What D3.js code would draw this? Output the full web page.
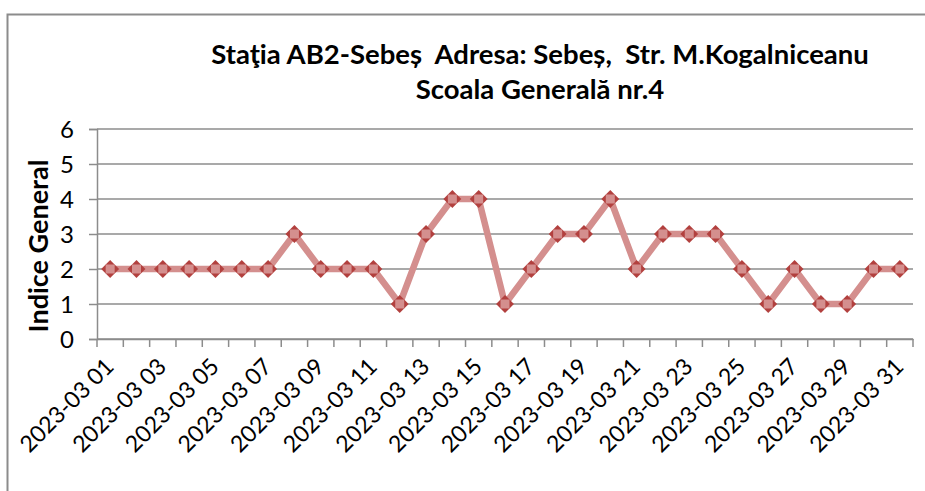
<!DOCTYPE html>
<html>
<head>
<meta charset="utf-8">
<script src="https://cdn.jsdelivr.net/npm/d3@7"></script>
<style>
  body { margin: 0; background: #fff; }
  svg { font-family: Lato, "Noto Sans", sans-serif; }
</style>
</head>
<body>
<div id="chart"></div>
<script>
// chart data
var days = ["2023-03 01", "2023-03 02", "2023-03 03", "2023-03 04", "2023-03 05", "2023-03 06",
  "2023-03 07", "2023-03 08", "2023-03 09", "2023-03 10", "2023-03 11", "2023-03 12",
  "2023-03 13", "2023-03 14", "2023-03 15", "2023-03 16", "2023-03 17", "2023-03 18",
  "2023-03 19", "2023-03 20", "2023-03 21", "2023-03 22", "2023-03 23", "2023-03 24",
  "2023-03 25", "2023-03 26", "2023-03 27", "2023-03 28", "2023-03 29", "2023-03 30",
  "2023-03 31"];
var indice = [2, 2, 2, 2, 2, 2, 2, 3, 2, 2, 2, 1, 3, 4, 4, 1, 2, 3, 3, 4, 2, 3, 3, 3, 2, 1, 2, 1, 1, 2, 2];
var yTicks = [0, 1, 2, 3, 4, 5, 6];
var titleLines = ["Staţia AB2-Sebeș  Adresa: Sebeș,  Str. M.Kogalniceanu", "Scoala Generală nr.4"];
var yTitle = "Indice General";

var W = 925, H = 491;
var margin = {top: 129, right: 12, bottom: 152, left: 97},
    width = W - margin.left - margin.right,
    height = H - margin.top - margin.bottom;

var svg = d3.select("#chart")
  .append("svg")
    .attr("width", W)
    .attr("height", H);

// outer frame (only top and left edges are visible)
svg.append("path")
  .attr("d", "M7.5," + H + "V14.5H" + W)
  .attr("fill", "none")
  .attr("stroke", "#8c8c8c")
  .attr("stroke-width", 2);

// title
svg.selectAll(".title")
  .data(titleLines)
  .enter()
  .append("text")
    .attr("class", "title")
    .attr("x", 540)
    .attr("y", function(d, i) { return 64 + i * 35; })
    .attr("text-anchor", "middle")
    .style("white-space", "pre")
    .style("font-weight", "bold")
    .style("font-size", "27.5px")
    .text(function(d) { return d; });

var g = svg.append("g")
  .attr("transform", "translate(" + margin.left + "," + margin.top + ")");

var x = d3.scaleBand()
  .domain(days)
  .range([0, width])
  .padding(0);

var y = d3.scaleLinear()
  .domain([0, 6])
  .range([height, 0]);

// gridlines
g.selectAll(".grid")
  .data(yTicks)
  .enter()
  .append("line")
    .attr("x1", 0)
    .attr("x2", width)
    .attr("y1", function(d) { return y(d); })
    .attr("y2", function(d) { return y(d); })
    .attr("stroke", "#8c8c8c")
    .attr("stroke-width", 1.5);

// Y axis
var yAxis = g.append("g")
  .call(d3.axisLeft(y).tickValues(yTicks).tickSize(8).tickPadding(15).tickFormat(d3.format("d")));
yAxis.select(".domain").attr("stroke", "#8c8c8c").attr("stroke-width", 1.5);
yAxis.selectAll(".tick line").attr("stroke", "#8c8c8c").attr("stroke-width", 1.5);
yAxis.selectAll("text")
  .style("font-size", "24px")
  .style("font-family", "Lato, sans-serif")
  .attr("fill", "#000")
  .attr("dy", "0.36em");

// X axis: ticks between categories, labels on every other day
var xAxis = g.append("g")
  .attr("transform", "translate(0," + height + ")")
  .call(d3.axisBottom(x)
    .tickValues(days.filter(function(d, i) { return i % 2 === 0; }))
    .tickSize(0)
    .tickSizeOuter(0));
xAxis.select(".domain").attr("stroke", "#8c8c8c").attr("stroke-width", 1.5);
xAxis.selectAll("text")
  .attr("x", 0)
  .attr("y", 0)
  .attr("dy", 0)
  .attr("text-anchor", "end")
  .attr("transform", "translate(5,29) rotate(-45)")
  .attr("fill", "#000")
  .style("font-size", "23px")
  .style("font-family", "Lato, sans-serif");

var bounds = days.map(function(d) { return x(d); }).concat([width]);
xAxis.selectAll(".bound")
  .data(bounds)
  .enter()
  .append("line")
    .attr("x1", function(d) { return d; })
    .attr("x2", function(d) { return d; })
    .attr("y1", 0)
    .attr("y2", 8)
    .attr("stroke", "#8c8c8c")
    .attr("stroke-width", 1.5);

// Y axis title
svg.append("text")
  .attr("transform", "translate(48,246) rotate(-90)")
  .attr("text-anchor", "middle")
  .style("font-weight", "bold")
  .style("font-size", "27px")
  .text(yTitle);

// line
var cx = function(d, i) { return x(days[i]) + x.bandwidth() / 2; };
var line = d3.line()
  .x(cx)
  .y(function(d) { return y(d); });

g.append("path")
  .datum(indice)
  .attr("d", line)
  .attr("fill", "none")
  .attr("stroke", "#d48f8e")
  .attr("stroke-width", 6.5)
  .attr("stroke-linejoin", "round");

// markers
var pts = g.selectAll(".pt")
  .data(indice)
  .enter()
  .append("g")
    .attr("class", "pt")
    .attr("transform", function(d, i) { return "translate(" + cx(d, i) + "," + y(d) + ")"; });

pts.append("path")
  .attr("d", d3.symbol().type(d3.symbolSquare).size(160))
  .attr("transform", "rotate(45)")
  .attr("fill", "#b2403e");

pts.append("path")
  .attr("d", d3.symbol().type(d3.symbolSquare).size(81))
  .attr("fill", "#d48f8e");
</script>
</body>
</html>
